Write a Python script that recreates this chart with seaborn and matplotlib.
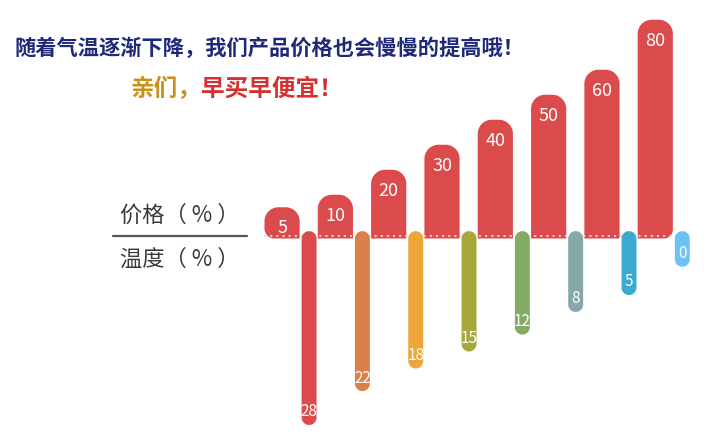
import numpy as np
import matplotlib
matplotlib.use("Agg")
import matplotlib.pyplot as plt
import seaborn as sns
from matplotlib.patches import Polygon
from matplotlib.lines import Line2D

# ---------------- data ----------------
steps = ["1", "2", "3", "4", "5", "6", "7", "8"]
price = [5, 10, 20, 30, 40, 50, 60, 80]          # 价格 (%)
temperature = [28, 22, 18, 15, 12, 8, 5, 0]      # 温度 (%)
temp_colors = ["#db4b4b", "#dc8049", "#eea53a", "#a6a839",
               "#84ab63", "#85a8ab", "#3ba9d0", "#6cc3f3"]
PRICE_COLOR = "#db4b4b"

title_text = "随着气温逐渐下降，我们产品价格也会慢慢的提高哦！"
sub_a = "亲们，"
sub_b = "早买早便宜！"
label_price = "价格（ % ）"
label_temp = "温度（ % ）"

# ---------------- style ----------------
W, H = 715, 439
PAD_P = 7.5       # label stub added to price bars
PAD_T = 5.0       # label stub added to temperature bars
EXT_T = 1.3       # temp pills start slightly above baseline

sns.set_theme(style="white")
plt.rcParams["font.family"] = ["Noto Sans CJK SC", "DejaVu Sans"]

fig = plt.figure(figsize=(W / 100, H / 100), dpi=100)
fig.patch.set_facecolor("white")
ax_p = fig.add_axes([0, 0, 1, 1])
ax_t = fig.add_axes([0, 0, 1, 1])
for ax in (ax_p, ax_t):
    ax.patch.set_visible(False)

sns.barplot(x=steps, y=[p + PAD_P for p in price], color=PRICE_COLOR,
            saturation=1, width=0.66, ax=ax_p)
sns.barplot(x=steps, y=[t + PAD_T for t in temperature], hue=steps,
            palette=temp_colors, saturation=1, width=0.28, legend=False,
            ax=ax_t)

# axis scales (pixels per unit): x 53.3, price 2.5, temp 5.65
x_left, x_right = -5.29, 8.12
ax_p.set_xlim(x_left, x_right)
ax_p.set_ylim(-199.5 / 2.5, 239.5 / 2.5)
ax_t.set_xlim(x_left - 0.507, x_right - 0.507)
ax_t.set_ylim(199.5 / 5.65, -239.5 / 5.65)
for ax in (ax_p, ax_t):
    ax.set_axis_off()


def arc(cx, cy, r, a0, a1, n=24):
    t = np.linspace(a0, a1, n)
    return np.column_stack([cx + r * np.cos(t), cy + r * np.sin(t)])


def rounded(ax, x0, x1, y0, y1, rtl, rtr, rbr, rbl, color):
    (X0, Ya), (X1, Yb) = ax.transData.transform([(x0, y0), (x1, y1)])
    X0, X1 = min(X0, X1), max(X0, X1)
    top, bot = max(Ya, Yb), min(Ya, Yb)
    pts = np.vstack([
        arc(X0 + rbl, bot + rbl, rbl, np.pi, 1.5 * np.pi),
        arc(X1 - rbr, bot + rbr, rbr, 1.5 * np.pi, 2 * np.pi),
        arc(X1 - rtr, top - rtr, rtr, 0, 0.5 * np.pi),
        arc(X0 + rtl, top - rtl, rtl, 0.5 * np.pi, np.pi),
    ])
    poly = Polygon(ax.transData.inverted().transform(pts), closed=True,
                   facecolor=color, edgecolor="none", zorder=3)
    ax.add_patch(poly)


# price bars -> rounded tops
bars_p = sorted(ax_p.patches, key=lambda r: r.get_x())
n = len(bars_p)
for i, (r, v) in enumerate(zip(bars_p, price)):
    r.remove()
    x0, w, h = r.get_x(), r.get_width(), r.get_height()
    rbl = 10 if i == 0 else 0
    rbr = 9 if i == n - 1 else 0
    rounded(ax_p, x0, x0 + w, 0, h, 14, 14, rbr, rbl, PRICE_COLOR)
    ax_p.annotate(str(v), xy=(x0 + w / 2, h), xytext=(0, -20),
                  textcoords="offset pixels", ha="center", va="center",
                  color="white", fontsize=13, zorder=5)

# baseline dotted line
ax_p.plot([-0.33, 7.45], [0.9, 0.9], color="#f4d3d3", lw=1.3,
          linestyle=(0, (1.2, 2.2)), zorder=4)

# temperature pills
bars_t = sorted(ax_t.patches, key=lambda r: r.get_x())
for r, v, c in zip(bars_t, temperature, temp_colors):
    r.remove()
    x0, w, h = r.get_x(), r.get_width(), r.get_height()
    rr = w * 53.3 / 2
    rounded(ax_t, x0, x0 + w, -EXT_T, h, rr, rr, rr, rr, c)
    ax_t.annotate(str(v), xy=(x0 + w / 2, h), xytext=(0, 14),
                  textcoords="offset pixels", ha="center", va="center",
                  color="white", fontsize=11, zorder=5)

# left legend-like labels
fig.text(180 / W, 1 - 215 / H, label_price, ha="center", va="center",
         fontsize=16, color="#3a3a3a")
fig.text(180 / W, 1 - 259 / H, label_temp, ha="center", va="center",
         fontsize=16, color="#3a3a3a")
fig.add_artist(Line2D([113 / W, 247 / W], [1 - 237 / H, 1 - 237 / H],
                      transform=fig.transFigure, color="#555555", lw=1.6))

# headline texts
fig.text(14 / W, 1 - 48 / H, title_text, ha="left", va="center",
         fontsize=15.3, fontweight="bold", color="#1e2a78")
t1 = fig.text(130 / W, 1 - 89 / H, sub_a, ha="left", va="center",
              fontsize=17, fontweight="bold", color="#c9901c")
ax_p.annotate(sub_b, xy=(1, 0.5), xycoords=t1, ha="left", va="center",
              fontsize=17, fontweight="bold", color="#d62f2f",
              annotation_clip=False)

fig.savefig("out.png", dpi=100)
